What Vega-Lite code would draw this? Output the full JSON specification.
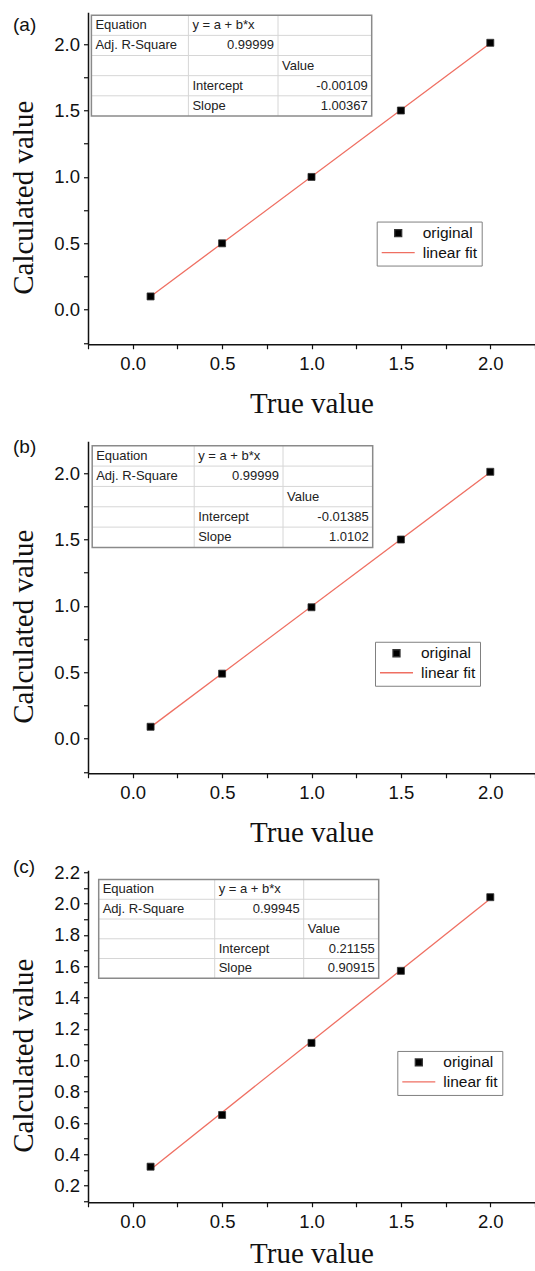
{
  "$schema": "https://vega.github.io/schema/vega-lite/v6.json",
  "padding": {"left": 9, "top": 12.25, "right": 0, "bottom": 0},
  "background": "white",
  "config": {"view": {"stroke": null}, "font": "Liberation Sans"},
  "spacing": 97,
  "bounds": "flush",
  "resolve": {"scale": {"shape": "independent", "size": "independent", "fill": "independent", "stroke": "independent"}, "legend": {"shape": "independent", "size": "independent", "fill": "independent", "stroke": "independent"}},
  "vconcat": [
    {
      "width": 447, "height": 332,
      "title": {"text": "(a)", "anchor": "start", "frame": "group", "orient": "top", "offset": -31.25, "baseline": "middle", "dx": -75, "font": "Liberation Sans", "fontSize": 19, "fontWeight": "normal", "color": "#111"},
      "layer": [
        {
          "layer": [
            {
              "data": {"values": [{"x": 0.1, "y": 0.0993}, {"x": 2.0, "y": 2.0063}]},
              "mark": {"type": "line", "color": "#ef6f62", "strokeWidth": 1.3},
              "encoding": {
                "x": {"field": "x", "type": "quantitative", "scale": {"domain": [-0.25, 2.25], "nice": false, "zero": false},
                  "axis": {"title": "True value", "grid": false, "tickCount": 100, "values": [-0.25, 0, 0.25, 0.5, 0.75, 1, 1.25, 1.5, 1.75, 2, 2.25],
                    "labelExpr": "abs(datum.value*2 - round(datum.value*2)) < 0.001 ? format(datum.value, '.1f') : ''",
                    "tickSize": 4.5, "domainColor": "#111", "domainWidth": 1.5, "tickColor": "#111", "tickWidth": 1.2,
                    "labelFont": "Liberation Sans", "labelFontSize": 18.5, "labelColor": "#111", "labelPadding": 6, "labelFlush": false, "labelOverlap": false,
                    "titleFont": "Liberation Serif", "titleFontSize": 29, "titleFontWeight": "normal", "titleColor": "#111", "titleY": 68, "titleBaseline": "alphabetic"}},
                "y": {"field": "y", "type": "quantitative", "scale": {"domain": [-0.26, 2.24], "nice": false, "zero": false},
                  "axis": {"title": "Calculated value", "grid": false, "tickCount": 100, "values": [-0.25, 0, 0.25, 0.5, 0.75, 1, 1.25, 1.5, 1.75, 2],
                    "labelExpr": "abs(datum.value*2 - round(datum.value*2)) < 0.001 ? format(datum.value, '.1f') : ''",
                    "tickSize": 4.5, "domainColor": "#111", "domainWidth": 1.5, "tickColor": "#111", "tickWidth": 1.2,
                    "labelFont": "Liberation Sans", "labelFontSize": 18.5, "labelColor": "#111", "labelPadding": 4, "labelOverlap": false,
                    "titleFont": "Liberation Serif", "titleFontSize": 29, "titleFontWeight": "normal", "titleColor": "#111", "titleX": -56, "titleY": 185, "titleBaseline": "alphabetic", "titleAngle": 270}}
              }
            },
            {
              "data": {"values": [{"x": 0.1, "y": 0.10, "s": "original"}, {"x": 0.5, "y": 0.50, "s": "original"}, {"x": 1.0, "y": 1.00, "s": "original"}, {"x": 1.5, "y": 1.50, "s": "original"}, {"x": 2.0, "y": 2.01, "s": "original"}]},
              "mark": {"type": "point", "filled": true, "strokeWidth": 0.8, "opacity": 1},
              "encoding": {
                "x": {"field": "x", "type": "quantitative", "scale": {"domain": [-0.25, 2.25], "nice": false, "zero": false}},
                "y": {"field": "y", "type": "quantitative", "scale": {"domain": [-0.26, 2.24], "nice": false, "zero": false}},
                "shape": {"field": "s", "type": "nominal", "scale": {"domain": ["original", "linear fit"], "range": ["square", "stroke"]},
                  "legend": {"title": null, "orient": "none", "legendX": 288.7, "legendY": 209.3, "padding": 4, "rowPadding": 3.5, "clipHeight": 15, "labelFont": "Liberation Sans", "labelFontSize": 15.5, "labelColor": "#111", "labelOffset": 7, "symbolStrokeWidth": 1.3, "symbolOpacity": 1, "strokeColor": "#808080", "fillColor": "#fff"}},
                "size": {"field": "s", "type": "nominal", "scale": {"domain": ["original", "linear fit"], "range": [49, 1089]}, "legend": {"title": null}},
                "fill": {"field": "s", "type": "nominal", "scale": {"domain": ["original", "linear fit"], "range": ["#000000", "transparent"]}, "legend": {"title": null}},
                "stroke": {"field": "s", "type": "nominal", "scale": {"domain": ["original", "linear fit"], "range": ["#333333", "#ef6f62"]}, "legend": {"title": null}}
              }
            }
          ]
        },
        {
          "data": {"values": [
            {"r": 0, "c": 0, "t": "Equation"}, {"r": 0, "c": 1, "t": "y = a + b*x"}, {"r": 0, "c": 2, "t": ""},
            {"r": 1, "c": 0, "t": "Adj. R-Square"}, {"r": 1, "c": 1, "t": "0.99999"}, {"r": 1, "c": 2, "t": ""},
            {"r": 2, "c": 0, "t": ""}, {"r": 2, "c": 1, "t": ""}, {"r": 2, "c": 2, "t": "Value"},
            {"r": 3, "c": 0, "t": ""}, {"r": 3, "c": 1, "t": "Intercept"}, {"r": 3, "c": 2, "t": "-0.00109"},
            {"r": 4, "c": 0, "t": ""}, {"r": 4, "c": 1, "t": "Slope"}, {"r": 4, "c": 2, "t": "1.00367"}
          ]},
          "layer": [
            {
              "layer": [
                {"transform": [{"filter": "datum.c == 0 && datum.r > 0"}], "mark": {"type": "rule", "color": "#d6d6d6", "strokeWidth": 1},
                  "encoding": {"y": {"field": "r", "type": "quantitative", "scale": {"domain": [0, 5], "range": [3, 103.7], "nice": false, "zero": false}, "axis": null},
                    "x": {"datum": 0, "type": "quantitative", "scale": {"domain": [0, 1, 2, 3], "range": [3.4, 100.4, 190, 283.7], "nice": false, "zero": false}, "axis": null}, "x2": {"datum": 3}}},
                {"transform": [{"filter": "datum.r == 0 && datum.c > 0"}], "mark": {"type": "rule", "color": "#d6d6d6", "strokeWidth": 1},
                  "encoding": {"x": {"field": "c", "type": "quantitative", "axis": null}, "y": {"datum": 0, "type": "quantitative", "axis": null}, "y2": {"datum": 5}}},
                {"transform": [{"filter": "datum.r == 0 && datum.c == 0"}], "mark": {"type": "rect", "fill": "transparent", "stroke": "#8a8a8a", "strokeWidth": 1.5},
                  "encoding": {"x": {"datum": 0, "type": "quantitative", "axis": null}, "x2": {"datum": 3}, "y": {"datum": 0, "type": "quantitative", "axis": null}, "y2": {"datum": 5}}},
                {"transform": [{"filter": "datum.t != '' && isNaN(toNumber(datum.t))"}], "mark": {"type": "text", "align": "left", "baseline": "middle", "dx": 4, "dy": 10.1, "font": "Liberation Sans", "fontSize": 13, "color": "#222"},
                  "encoding": {"x": {"field": "c", "type": "quantitative", "axis": null}, "y": {"field": "r", "type": "quantitative", "axis": null}, "text": {"field": "t"}}}
              ]
            },
            {"transform": [{"filter": "datum.t != '' && !isNaN(toNumber(datum.t))"}], "mark": {"type": "text", "align": "right", "baseline": "middle", "dx": -4, "dy": 10.1, "font": "Liberation Sans", "fontSize": 13, "color": "#222"},
              "encoding": {"x": {"field": "c", "type": "quantitative", "scale": {"domain": [0, 1, 2], "range": [100.4, 190, 283.7], "nice": false, "zero": false}, "axis": null},
                "y": {"field": "r", "type": "quantitative", "axis": null}, "text": {"field": "t"}}}
          ],
          "resolve": {"scale": {"x": "independent"}}
        }
      ],
      "resolve": {"scale": {"x": "independent", "y": "independent"}}
    },
    {
      "width": 447, "height": 332,
      "title": {"text": "(b)", "anchor": "start", "frame": "group", "orient": "top", "offset": -24.25, "baseline": "middle", "dx": -75, "font": "Liberation Sans", "fontSize": 19, "fontWeight": "normal", "color": "#111"},
      "layer": [
        {
          "layer": [
            {
              "data": {"values": [{"x": 0.1, "y": 0.0872}, {"x": 2.0, "y": 2.0066}]},
              "mark": {"type": "line", "color": "#ef6f62", "strokeWidth": 1.3},
              "encoding": {
                "x": {"field": "x", "type": "quantitative", "scale": {"domain": [-0.25, 2.25], "nice": false, "zero": false},
                  "axis": {"title": "True value", "grid": false, "tickCount": 100, "values": [-0.25, 0, 0.25, 0.5, 0.75, 1, 1.25, 1.5, 1.75, 2, 2.25],
                    "labelExpr": "abs(datum.value*2 - round(datum.value*2)) < 0.001 ? format(datum.value, '.1f') : ''",
                    "tickSize": 4.5, "domainColor": "#111", "domainWidth": 1.5, "tickColor": "#111", "tickWidth": 1.2,
                    "labelFont": "Liberation Sans", "labelFontSize": 18.5, "labelColor": "#111", "labelPadding": 6, "labelFlush": false, "labelOverlap": false,
                    "titleFont": "Liberation Serif", "titleFontSize": 29, "titleFontWeight": "normal", "titleColor": "#111", "titleY": 68, "titleBaseline": "alphabetic"}},
                "y": {"field": "y", "type": "quantitative", "scale": {"domain": [-0.26, 2.24], "nice": false, "zero": false},
                  "axis": {"title": "Calculated value", "grid": false, "tickCount": 100, "values": [-0.25, 0, 0.25, 0.5, 0.75, 1, 1.25, 1.5, 1.75, 2],
                    "labelExpr": "abs(datum.value*2 - round(datum.value*2)) < 0.001 ? format(datum.value, '.1f') : ''",
                    "tickSize": 4.5, "domainColor": "#111", "domainWidth": 1.5, "tickColor": "#111", "tickWidth": 1.2,
                    "labelFont": "Liberation Sans", "labelFontSize": 18.5, "labelColor": "#111", "labelPadding": 4, "labelOverlap": false,
                    "titleFont": "Liberation Serif", "titleFontSize": 29, "titleFontWeight": "normal", "titleColor": "#111", "titleX": -56, "titleY": 185, "titleBaseline": "alphabetic", "titleAngle": 270}}
              }
            },
            {
              "data": {"values": [{"x": 0.1, "y": 0.09, "s": "original"}, {"x": 0.5, "y": 0.49, "s": "original"}, {"x": 1.0, "y": 0.99, "s": "original"}, {"x": 1.5, "y": 1.50, "s": "original"}, {"x": 2.0, "y": 2.01, "s": "original"}]},
              "mark": {"type": "point", "filled": true, "strokeWidth": 0.8, "opacity": 1},
              "encoding": {
                "x": {"field": "x", "type": "quantitative", "scale": {"domain": [-0.25, 2.25], "nice": false, "zero": false}},
                "y": {"field": "y", "type": "quantitative", "scale": {"domain": [-0.26, 2.24], "nice": false, "zero": false}},
                "shape": {"field": "s", "type": "nominal", "scale": {"domain": ["original", "linear fit"], "range": ["square", "stroke"]},
                  "legend": {"title": null, "orient": "none", "legendX": 287, "legendY": 200.5, "padding": 4, "rowPadding": 3.5, "clipHeight": 15, "labelFont": "Liberation Sans", "labelFontSize": 15.5, "labelColor": "#111", "labelOffset": 7, "symbolStrokeWidth": 1.3, "symbolOpacity": 1, "strokeColor": "#808080", "fillColor": "#fff"}},
                "size": {"field": "s", "type": "nominal", "scale": {"domain": ["original", "linear fit"], "range": [49, 1089]}, "legend": {"title": null}},
                "fill": {"field": "s", "type": "nominal", "scale": {"domain": ["original", "linear fit"], "range": ["#000000", "transparent"]}, "legend": {"title": null}},
                "stroke": {"field": "s", "type": "nominal", "scale": {"domain": ["original", "linear fit"], "range": ["#333333", "#ef6f62"]}, "legend": {"title": null}}
              }
            }
          ]
        },
        {
          "data": {"values": [
            {"r": 0, "c": 0, "t": "Equation"}, {"r": 0, "c": 1, "t": "y = a + b*x"}, {"r": 0, "c": 2, "t": ""},
            {"r": 1, "c": 0, "t": "Adj. R-Square"}, {"r": 1, "c": 1, "t": "0.99999"}, {"r": 1, "c": 2, "t": ""},
            {"r": 2, "c": 0, "t": ""}, {"r": 2, "c": 1, "t": ""}, {"r": 2, "c": 2, "t": "Value"},
            {"r": 3, "c": 0, "t": ""}, {"r": 3, "c": 1, "t": "Intercept"}, {"r": 3, "c": 2, "t": "-0.01385"},
            {"r": 4, "c": 0, "t": ""}, {"r": 4, "c": 1, "t": "Slope"}, {"r": 4, "c": 2, "t": "1.0102"}
          ]},
          "layer": [
            {
              "layer": [
                {"transform": [{"filter": "datum.c == 0 && datum.r > 0"}], "mark": {"type": "rule", "color": "#d6d6d6", "strokeWidth": 1},
                  "encoding": {"y": {"field": "r", "type": "quantitative", "scale": {"domain": [0, 5], "range": [4.5, 106.2], "nice": false, "zero": false}, "axis": null},
                    "x": {"datum": 0, "type": "quantitative", "scale": {"domain": [0, 1, 2, 3], "range": [4.2, 106.2, 195, 284.7], "nice": false, "zero": false}, "axis": null}, "x2": {"datum": 3}}},
                {"transform": [{"filter": "datum.r == 0 && datum.c > 0"}], "mark": {"type": "rule", "color": "#d6d6d6", "strokeWidth": 1},
                  "encoding": {"x": {"field": "c", "type": "quantitative", "axis": null}, "y": {"datum": 0, "type": "quantitative", "axis": null}, "y2": {"datum": 5}}},
                {"transform": [{"filter": "datum.r == 0 && datum.c == 0"}], "mark": {"type": "rect", "fill": "transparent", "stroke": "#8a8a8a", "strokeWidth": 1.5},
                  "encoding": {"x": {"datum": 0, "type": "quantitative", "axis": null}, "x2": {"datum": 3}, "y": {"datum": 0, "type": "quantitative", "axis": null}, "y2": {"datum": 5}}},
                {"transform": [{"filter": "datum.t != '' && isNaN(toNumber(datum.t))"}], "mark": {"type": "text", "align": "left", "baseline": "middle", "dx": 4, "dy": 10.2, "font": "Liberation Sans", "fontSize": 13, "color": "#222"},
                  "encoding": {"x": {"field": "c", "type": "quantitative", "axis": null}, "y": {"field": "r", "type": "quantitative", "axis": null}, "text": {"field": "t"}}}
              ]
            },
            {"transform": [{"filter": "datum.t != '' && !isNaN(toNumber(datum.t))"}], "mark": {"type": "text", "align": "right", "baseline": "middle", "dx": -4, "dy": 10.2, "font": "Liberation Sans", "fontSize": 13, "color": "#222"},
              "encoding": {"x": {"field": "c", "type": "quantitative", "scale": {"domain": [0, 1, 2], "range": [106.2, 195, 284.7], "nice": false, "zero": false}, "axis": null},
                "y": {"field": "r", "type": "quantitative", "axis": null}, "text": {"field": "t"}}}
          ],
          "resolve": {"scale": {"x": "independent"}}
        }
      ],
      "resolve": {"scale": {"x": "independent", "y": "independent"}}
    },
    {
      "width": 447, "height": 332,
      "title": {"text": "(c)", "anchor": "start", "frame": "group", "orient": "top", "offset": -22.85, "baseline": "middle", "dx": -75, "font": "Liberation Sans", "fontSize": 19, "fontWeight": "normal", "color": "#111"},
      "layer": [
        {
          "layer": [
            {
              "data": {"values": [{"x": 0.1, "y": 0.3025}, {"x": 2.0, "y": 2.0299}]},
              "mark": {"type": "line", "color": "#ef6f62", "strokeWidth": 1.3},
              "encoding": {
                "x": {"field": "x", "type": "quantitative", "scale": {"domain": [-0.25, 2.25], "nice": false, "zero": false},
                  "axis": {"title": "True value", "grid": false, "tickCount": 100, "values": [-0.25, 0, 0.25, 0.5, 0.75, 1, 1.25, 1.5, 1.75, 2, 2.25],
                    "labelExpr": "abs(datum.value*2 - round(datum.value*2)) < 0.001 ? format(datum.value, '.1f') : ''",
                    "tickSize": 4.5, "domainColor": "#111", "domainWidth": 1.5, "tickColor": "#111", "tickWidth": 1.2,
                    "labelFont": "Liberation Sans", "labelFontSize": 18.5, "labelColor": "#111", "labelPadding": 6, "labelFlush": false, "labelOverlap": false,
                    "titleFont": "Liberation Serif", "titleFontSize": 29, "titleFontWeight": "normal", "titleColor": "#111", "titleY": 60, "titleBaseline": "alphabetic"}},
                "y": {"field": "y", "type": "quantitative", "scale": {"domain": [0.093, 2.212], "nice": false, "zero": false},
                  "axis": {"title": "Calculated value", "grid": false, "tickCount": 100, "values": [0.1, 0.2, 0.3, 0.4, 0.5, 0.6, 0.7, 0.8, 0.9, 1.0, 1.1, 1.2, 1.3, 1.4, 1.5, 1.6, 1.7, 1.8, 1.9, 2.0, 2.1, 2.2],
                    "labelExpr": "round(datum.value*10) % 2 == 0 ? format(datum.value, '.1f') : ''",
                    "tickSize": 4.5, "domainColor": "#111", "domainWidth": 1.5, "tickColor": "#111", "tickWidth": 1.2,
                    "labelFont": "Liberation Sans", "labelFontSize": 18.5, "labelColor": "#111", "labelPadding": 4, "labelOverlap": false,
                    "titleFont": "Liberation Serif", "titleFontSize": 29, "titleFontWeight": "normal", "titleColor": "#111", "titleX": -56, "titleY": 185, "titleBaseline": "alphabetic", "titleAngle": 270}}
              }
            },
            {
              "data": {"values": [{"x": 0.1, "y": 0.32, "s": "original"}, {"x": 0.5, "y": 0.65, "s": "original"}, {"x": 1.0, "y": 1.11, "s": "original"}, {"x": 1.5, "y": 1.57, "s": "original"}, {"x": 2.0, "y": 2.04, "s": "original"}]},
              "mark": {"type": "point", "filled": true, "strokeWidth": 0.8, "opacity": 1},
              "encoding": {
                "x": {"field": "x", "type": "quantitative", "scale": {"domain": [-0.25, 2.25], "nice": false, "zero": false}},
                "y": {"field": "y", "type": "quantitative", "scale": {"domain": [0.093, 2.212], "nice": false, "zero": false}},
                "shape": {"field": "s", "type": "nominal", "scale": {"domain": ["original", "linear fit"], "range": ["square", "stroke"]},
                  "legend": {"title": null, "orient": "none", "legendX": 309.3, "legendY": 180.7, "padding": 4, "rowPadding": 3.5, "clipHeight": 15, "labelFont": "Liberation Sans", "labelFontSize": 15.5, "labelColor": "#111", "labelOffset": 7, "symbolStrokeWidth": 1.3, "symbolOpacity": 1, "strokeColor": "#808080", "fillColor": "#fff"}},
                "size": {"field": "s", "type": "nominal", "scale": {"domain": ["original", "linear fit"], "range": [49, 1089]}, "legend": {"title": null}},
                "fill": {"field": "s", "type": "nominal", "scale": {"domain": ["original", "linear fit"], "range": ["#000000", "transparent"]}, "legend": {"title": null}},
                "stroke": {"field": "s", "type": "nominal", "scale": {"domain": ["original", "linear fit"], "range": ["#333333", "#ef6f62"]}, "legend": {"title": null}}
              }
            }
          ]
        },
        {
          "data": {"values": [
            {"r": 0, "c": 0, "t": "Equation"}, {"r": 0, "c": 1, "t": "y = a + b*x"}, {"r": 0, "c": 2, "t": ""},
            {"r": 1, "c": 0, "t": "Adj. R-Square"}, {"r": 1, "c": 1, "t": "0.99945"}, {"r": 1, "c": 2, "t": ""},
            {"r": 2, "c": 0, "t": ""}, {"r": 2, "c": 1, "t": ""}, {"r": 2, "c": 2, "t": "Value"},
            {"r": 3, "c": 0, "t": ""}, {"r": 3, "c": 1, "t": "Intercept"}, {"r": 3, "c": 2, "t": "0.21155"},
            {"r": 4, "c": 0, "t": ""}, {"r": 4, "c": 1, "t": "Slope"}, {"r": 4, "c": 2, "t": "0.90915"}
          ]},
          "layer": [
            {
              "layer": [
                {"transform": [{"filter": "datum.c == 0 && datum.r > 0"}], "mark": {"type": "rule", "color": "#d6d6d6", "strokeWidth": 1},
                  "encoding": {"y": {"field": "r", "type": "quantitative", "scale": {"domain": [0, 5], "range": [9.3, 108], "nice": false, "zero": false}, "axis": null},
                    "x": {"datum": 0, "type": "quantitative", "scale": {"domain": [0, 1, 2, 3], "range": [10.7, 126.7, 215.7, 290.7], "nice": false, "zero": false}, "axis": null}, "x2": {"datum": 3}}},
                {"transform": [{"filter": "datum.r == 0 && datum.c > 0"}], "mark": {"type": "rule", "color": "#d6d6d6", "strokeWidth": 1},
                  "encoding": {"x": {"field": "c", "type": "quantitative", "axis": null}, "y": {"datum": 0, "type": "quantitative", "axis": null}, "y2": {"datum": 5}}},
                {"transform": [{"filter": "datum.r == 0 && datum.c == 0"}], "mark": {"type": "rect", "fill": "transparent", "stroke": "#8a8a8a", "strokeWidth": 1.5},
                  "encoding": {"x": {"datum": 0, "type": "quantitative", "axis": null}, "x2": {"datum": 3}, "y": {"datum": 0, "type": "quantitative", "axis": null}, "y2": {"datum": 5}}},
                {"transform": [{"filter": "datum.t != '' && isNaN(toNumber(datum.t))"}], "mark": {"type": "text", "align": "left", "baseline": "middle", "dx": 4, "dy": 9.9, "font": "Liberation Sans", "fontSize": 13, "color": "#222"},
                  "encoding": {"x": {"field": "c", "type": "quantitative", "axis": null}, "y": {"field": "r", "type": "quantitative", "axis": null}, "text": {"field": "t"}}}
              ]
            },
            {"transform": [{"filter": "datum.t != '' && !isNaN(toNumber(datum.t))"}], "mark": {"type": "text", "align": "right", "baseline": "middle", "dx": -4, "dy": 9.9, "font": "Liberation Sans", "fontSize": 13, "color": "#222"},
              "encoding": {"x": {"field": "c", "type": "quantitative", "scale": {"domain": [0, 1, 2], "range": [126.7, 215.7, 290.7], "nice": false, "zero": false}, "axis": null},
                "y": {"field": "r", "type": "quantitative", "axis": null}, "text": {"field": "t"}}}
          ],
          "resolve": {"scale": {"x": "independent"}}
        }
      ],
      "resolve": {"scale": {"x": "independent", "y": "independent"}}
    }
  ]
}
